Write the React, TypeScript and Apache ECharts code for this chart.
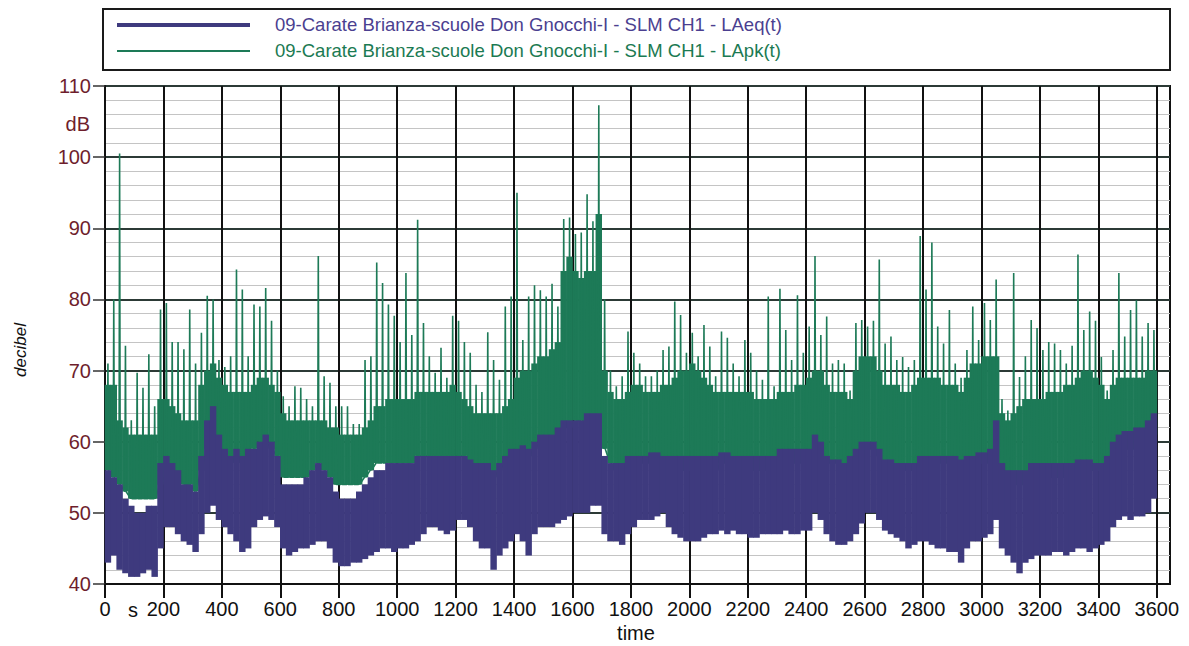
import React, { useEffect, useRef } from "react";
import * as echarts from "echarts";

// 20-second buckets, t = 0 .. 3580 s
const BUCKET_SECONDS = 20;
// LApk (green): spike max, dense-body top, low per bucket
const GH = [71,80,100.5,73.5,63,69.7,67.6,72.3,65,78.6,79.5,74,74,73,78.6,71,75.3,80.5,80,71.5,70.5,72,84.2,81.4,72,79.3,79,81.6,77,70,66.4,65,67.8,67.6,66,65,86.1,69.2,68.3,65,65,65,62.5,62.5,71.5,72,85.2,82.3,79.3,77.7,74,83.7,75,91.2,76.7,72,69.7,73.2,69,77.7,77,74,72.5,68,67,75.4,71.5,68.7,79,80.4,95,74.3,80.4,82,81.3,80.4,82.2,79,91.3,91.5,89.2,89.4,94.8,91,107.3,80,70,67.8,69.2,75.5,72.5,71,69.2,69.2,70,72.9,73.4,79.7,77.8,72.5,75.3,72,76.4,73.4,69.2,75.5,74.6,71,69.2,74.3,72.5,70,68.7,80.4,67.8,81.5,75.7,71.5,80.6,72.5,76.2,86.1,75,77.6,71,71.5,71,67.2,76.7,77.1,76.2,77,85.6,73.8,74.8,71.5,71.9,70.5,71.5,88.9,81.4,88,76.2,73.8,78.5,71,69,72.9,79,74.3,79.5,77.1,82.8,66,64.4,83.7,69.1,72,77.1,76,72.9,74,73.8,72.9,71,73.5,86.3,75.7,78.3,77,71.9,67.2,72.9,83.7,74.8,78.5,79.9,74.8,76.7,75.7];
const GB = [68,68,63,62,61,61,61,61,61,66,66,65,64,63,63,63,68,70,71,69,68,67,67,67,67,68,69,69,68,67,64,63,63,63,63,63,63,63,62,62,61,61,61,61,62,63,65,65,66,66,66,66,66,67,67,67,67,67,67,68,67,66,65,64,64,64,64,64,65,66,69,70,70,71,72,72,73,74,84,86,84,83,84,84,92,70,67,66,66,67,68,68,67,67,67,68,68,69,70,70,71,70,69,68,67,67,67,67,67,67,67,66,66,66,66,67,67,67,68,68,69,70,70,68,67,67,67,66,70,72,72,72,70,68,68,68,67,67,68,69,69,69,69,68,68,68,67,69,71,71,72,72,72,64,63,64,65,66,66,66,66,67,67,67,68,68,69,70,70,69,68,66,68,69,69,69,69,69,70,70];
const GL = [56,55,54,53,52,52,52,52,52,54,55,56,55,54,54,53,56,59,60,58,57,57,58,57,58,59,60,60,59,58,55,55,55,55,55,56,57,56,55,54,54,54,54,54,55,56,57,57,57,57,57,57,57,58,58,58,58,58,58,58,58,58,57,56,55,55,55,56,57,58,58,58,58,59,60,60,60,61,62,62,63,63,63,63,63,59,57,56,56,57,57,57,57,57,57,57,57,57,56,56,56,56,56,56,56,57,57,57,57,56,56,56,56,56,56,57,57,57,57,57,58,58,58,57,57,57,56,57,58,59,59,59,58,57,57,56,56,56,56,57,57,57,57,57,57,57,56,57,57,57,57,57,58,55,54,54,54,54,55,55,55,55,55,55,55,55,55,56,56,56,56,57,58,59,59,59,59,59,60,61];
// LAeq (purple): high and low per bucket
const PH = [56,55,54,52,51,50,50,51,51,57,58,57,56,54,54,53,58,63,65,61,59,58,59,58,59,59,60,61,60,58,54,54,54,54,55,56,57,56,55,53,52,52,52,53,54,55,56,56,57,57,57,57,57,58,58,58,58,58,58,58,58,58,57.5,57,57,57,56,57,58,59,59,59.5,59,60,61,61,61,62,63,63,63,63,64,64,64,58,57,57,57,58,58,58,58,58.5,58.5,58,58,58,58,58,58,58,58,58,58,58.5,58.5,58,58,58,58,58,58,58,58,59,59,59,59,59,59,61,60,58,57.5,57.5,57,58,59,60,60,60,59,57.5,57.5,57,57,57,57,58,58,58,58,58,58,58,57.5,58,58,58.5,58.5,59,63,57,56,56,56,56,57,57,57,57,57,57,57,57,57.5,57.5,57.5,57,57,58,60,61,61.5,61.5,62,62,63,64];
const PL = [43,44,42,41.5,41,41,41.5,42,41,45,48,48,47,46,45.5,44.5,47,50,51,49,48,47,46,44.5,45,48,49,49.5,49,48,45,44,44.5,45,45,45.5,46,46,45,43,42.5,42.5,43,43,43.5,44,44.5,45,45,44.5,45,45,45.5,46,47,48,48,47.5,47,47.5,49,49,48,46,45,45,42,44,45,46,47,46,44,47,48,48,48,48.5,49,49.5,50,50,50,51,51,47,46,46,45.5,47,48,49,49,49,49.5,50,48,47,46.5,46,46,46,46.5,47,47,47.5,47,47.5,47,47,46.5,46.5,47,47,47,47,47.5,47,47,47.5,47.5,50,49,47,46,45.5,45.5,46,47,48.5,50,50,49,47.5,47,46.5,46,45,45.5,46,46,45.5,45,45,44.5,44.5,43,45,46,46,46.5,47,49,45,44,43,41.5,43,43.5,44,44,44,44.5,44.5,44,44.5,45,45,44.5,45,45.5,46,48,49,49.5,49,49.5,49.5,50,52];

const X_TICKS = [0,200,400,600,800,1000,1200,1400,1600,1800,2000,2200,2400,2600,2800,3000,3200,3400,3600];
const X_MAX = 3645;
const Y_MIN = 40;
const Y_MAX = 110;

const LEGEND_LAEQ = "09-Carate Brianza-scuole Don Gnocchi-I - SLM CH1 - LAeq(t)";
const LEGEND_LAPK = "09-Carate Brianza-scuole Don Gnocchi-I - SLM CH1 - LApk(t)";

const PURPLE = "#3e3a7e";
const GREEN = "#1d7a57";

export default function App() {
  const ref = useRef<HTMLDivElement>(null);
  useEffect(() => {
    if (!ref.current) return;
    const chart = echarts.init(ref.current, undefined, { renderer: "svg" });

    // band items: [t0, t1, low, high]
    const gBand = GB.map((v, i) => [i * BUCKET_SECONDS, (i + 1) * BUCKET_SECONDS, GL[i], v]);
    const pBand = PH.map((v, i) => [i * BUCKET_SECONDS, (i + 1) * BUCKET_SECONDS, PL[i], v]);
    const gSpikes: number[][] = [];
    GH.forEach((h, i) => {
      const t = i * BUCKET_SECONDS + BUCKET_SECONDS / 2;
      gSpikes.push([t - 2, GL[i]], [t, h], [t + 2, GL[i]]);
    });

    const bandRender = (color: string) => (params: any, api: any) => {
      const a = api.coord([api.value(0), api.value(3)]);
      const b = api.coord([api.value(1), api.value(2)]);
      return {
        type: "rect",
        shape: { x: a[0] - 0.3, y: a[1], width: b[0] - a[0] + 0.6, height: b[1] - a[1] },
        style: { fill: color },
      };
    };

    const font = "Liberation Sans, Arial, sans-serif";

    chart.setOption({
      animation: false,
      backgroundColor: "#ffffff",
      grid: {
        left: 105,
        right: 19,
        top: 86,
        bottom: 62,
        show: true,
        borderColor: "#111",
        borderWidth: 2,
        backgroundColor: "transparent",
      },
      xAxis: {
        type: "value",
        min: 0,
        max: X_MAX,
        interval: 200,
        axisLine: { show: true, lineStyle: { color: "#111", width: 2 } },
        axisTick: { show: true, length: 14, customValues: X_TICKS, lineStyle: { color: "#111", width: 2 } },
        axisLabel: {
          customValues: X_TICKS,
          formatter: (v: number) => (v % 200 === 0 ? String(v) : ""),
          color: "#111",
          fontSize: 20,
          fontFamily: font,
          margin: 15,
        },
        splitLine: { show: true, lineStyle: { color: "#111", width: 2 } },
      },
      yAxis: {
        type: "value",
        min: Y_MIN,
        max: Y_MAX,
        interval: 10,
        axisLine: { show: true, lineStyle: { color: "#111", width: 2 } },
        axisTick: { show: true, length: 12, lineStyle: { color: "#333", width: 1.5 } },
        axisLabel: { color: "#6e1e2c", fontSize: 20, fontFamily: font, margin: 14 },
        splitLine: { show: true, lineStyle: { color: "#2c3a36", width: 2 } },
        minorTick: { show: false, splitNumber: 5 },
        minorSplitLine: { show: true, lineStyle: { color: "#c4c4c4", width: 1 } },
      },
      series: [
        {
          type: "custom",
          name: "LApk",
          data: gBand,
          encode: { x: [0, 1], y: [2, 3] },
          renderItem: bandRender(GREEN),
          silent: true,
          z: 2,
        },
        {
          type: "line",
          name: "LApk spikes",
          data: gSpikes,
          symbol: "none",
          showSymbol: false,
          silent: true,
          lineStyle: { color: GREEN, width: 1.6 },
          z: 3,
        },
        {
          type: "custom",
          name: "LAeq",
          data: pBand,
          encode: { x: [0, 1], y: [2, 3] },
          renderItem: bandRender(PURPLE),
          silent: true,
          z: 4,
        },
      ],
      graphic: [
        {
          type: "rect",
          shape: { x: 103, y: 9, width: 1067, height: 61 },
          style: { fill: "#fff", stroke: "#1a1a1a", lineWidth: 2 },
        },
        {
          type: "line",
          shape: { x1: 117, y1: 25, x2: 250, y2: 25 },
          style: { stroke: PURPLE, lineWidth: 4 },
        },
        {
          type: "line",
          shape: { x1: 117, y1: 51, x2: 250, y2: 51 },
          style: { stroke: GREEN, lineWidth: 2 },
        },
        {
          type: "text",
          x: 275,
          y: 24,
          style: { text: LEGEND_LAEQ, fill: "#4b3f90", fontSize: 18.5, fontFamily: font, verticalAlign: "middle" },
        },
        {
          type: "text",
          x: 275,
          y: 50,
          style: { text: LEGEND_LAPK, fill: "#1b7a52", fontSize: 18.5, fontFamily: font, verticalAlign: "middle" },
        },
        {
          type: "text",
          x: 90,
          y: 124,
          style: { text: "dB", fill: "#6e1e2c", fontSize: 20, fontFamily: font, align: "right", verticalAlign: "middle" },
        },
        {
          type: "text",
          x: 133,
          y: 610,
          style: { text: "s", fill: "#111", fontSize: 20, fontFamily: font, align: "center", verticalAlign: "middle" },
        },
        {
          type: "text",
          x: 636,
          y: 633,
          style: { text: "time", fill: "#111", fontSize: 20, fontFamily: font, align: "center", verticalAlign: "middle" },
        },
        {
          type: "text",
          x: 20,
          y: 350,
          rotation: Math.PI / 2,
          style: { text: "decibel", fill: "#111", fontSize: 17, fontStyle: "italic", fontFamily: font, align: "center", verticalAlign: "middle" },
        },
      ],
    });
    return () => chart.dispose();
  }, []);
  return (
    <div
      ref={ref}
      style={{ position: "fixed", left: 0, top: 0, width: 1189, height: 646, background: "#fff" }}
    />
  );
}
